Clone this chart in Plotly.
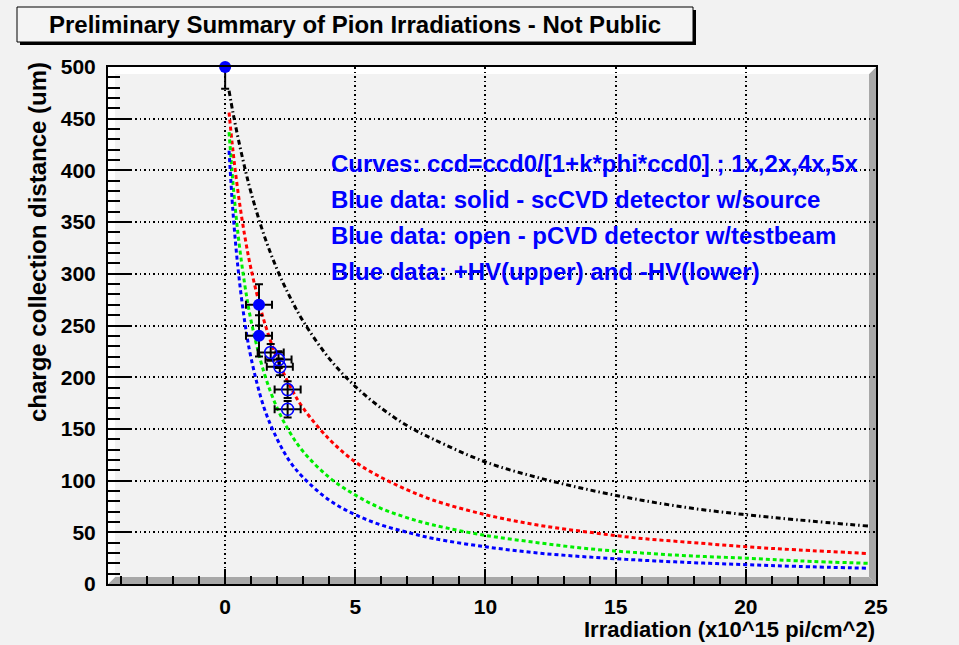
import plotly.graph_objects as go

# ---------------- data ----------------
curve_x = [0.15, 0.3, 0.5, 0.75, 1, 1.5, 2, 2.5, 3, 4, 5, 6, 7, 8, 10, 12, 14, 16, 18, 20, 22, 24.7]
curve_1x = [477, 456, 431, 403, 378, 337, 304, 277, 254, 218, 191, 170, 153, 140, 118, 103, 91, 81, 73, 67, 62, 56]
curve_2x = [456, 419, 378, 337, 304, 254, 218, 191, 170, 140, 118, 103, 91, 81, 67, 57, 50, 44, 40, 36, 33, 29.5]
curve_4x = [437, 388, 337, 290, 254, 204, 170, 146, 128, 103, 86, 73, 64, 57, 47, 40, 34, 30, 27, 25, 22.4, 20]
curve_5x = [419, 360, 304, 254, 218, 170, 140, 118, 103, 81, 67, 57, 50, 44, 36, 30, 26, 23, 20.6, 18.7, 17, 15.2]

solid_x = [1.3, 1.3]
solid_y = [270, 240]
solid_ex = [0.5, 0.5]
solid_ey = [20, 20]

top_x = [0]
top_y = [500]
top_ey_minus = [21]

open_x = [1.75, 2.05, 2.1, 2.4, 2.4]
open_y = [224, 217, 210, 188, 169]
open_ex = [0.5, 0.5, 0.5, 0.5, 0.5]
open_ey = [8, 8, 8, 8, 8]

title_text = "Preliminary Summary of Pion Irradiations - Not Public"
x_title = "Irradiation (x10^15 pi/cm^2)"
y_title = "charge collection distance (um)"
notes = [
    "Curves: ccd=ccd0/[1+k*phi*ccd0] ; 1x,2x,4x,5x",
    "Blue data: solid - scCVD detector w/source",
    "Blue data: open - pCVD detector w/testbeam",
    "Blue data: +HV(upper) and -HV(lower)",
]

# ---------------- layout geometry ----------------
W, H = 959, 645
L, R, T, B = 108, 876, 67, 584  # plot area pixels
PW, PH = R - L, B - T
FONT = "Liberation Sans, Arial, Helvetica, sans-serif"
BG = "#f2f2f2"


def px(x):
    return (x - L) / PW


def py(y):
    return (B - y) / PH


fig = go.Figure()

curve_styles = [
    (curve_1x, "black", "5px,3px,1.5px,3px"),
    (curve_2x, "#ff0000", "4px,3px"),
    (curve_4x, "#00ee00", "4px,3px"),
    (curve_5x, "#0000ff", "4px,3px"),
]
for ys, col, dash in curve_styles:
    fig.add_trace(go.Scatter(x=curve_x, y=ys, mode="lines",
                             line=dict(color=col, width=3, dash=dash, shape="spline"),
                             hoverinfo="skip"))

err_style = dict(color="black", thickness=2, width=4)

fig.add_trace(go.Scatter(
    x=top_x, y=top_y, mode="markers", cliponaxis=False,
    marker=dict(symbol="circle", size=12, color="#0000ff"),
    error_y=dict(type="data", symmetric=False, array=[0], arrayminus=top_ey_minus, **err_style),
))
fig.add_trace(go.Scatter(
    x=solid_x, y=solid_y, mode="markers",
    marker=dict(symbol="circle", size=12, color="#0000ff"),
    error_x=dict(type="data", array=solid_ex, **err_style),
    error_y=dict(type="data", array=solid_ey, **err_style),
))
fig.add_trace(go.Scatter(
    x=open_x, y=open_y, mode="markers",
    marker=dict(symbol="circle-open", size=12, color="#0000ff", line=dict(width=1.5, color="#0000ff")),
    error_x=dict(type="data", array=open_ex, **err_style),
    error_y=dict(type="data", array=open_ey, **err_style),
))

tickfont = dict(family=FONT, size=21, color="black", weight="bold")
common = dict(showline=True, linecolor="black", linewidth=2, mirror=True,
              ticks="inside", tickcolor="black", tickwidth=1.5,
              showgrid=True, gridcolor="black", gridwidth=1.5, griddash="1.5px,3px",
              zeroline=False, tickfont=tickfont)

fig.update_xaxes(range=[-4.5, 25], tick0=0, dtick=5, ticklen=15, ticklabelstandoff=3,
                 minor=dict(tick0=0, dtick=1, ticks="inside", ticklen=8, tickcolor="black",
                            tickwidth=1.5, showgrid=False),
                 **common)
fig.update_yaxes(range=[0, 500], tick0=0, dtick=50, ticklen=23, ticklabelstandoff=6,
                 minor=dict(tick0=0, dtick=10, ticks="inside", ticklen=12, tickcolor="black",
                            tickwidth=1.5, showgrid=False),
                 **common)

shapes = []
bev = 7
dx, dy = bev / PW, bev / PH
# gray bevel bottom and right
shapes.append(dict(type="path", xref="paper", yref="paper", layer="between",
                   path=f"M 0 0 L 1 0 L {1-dx} {dy} L {dx} {dy} Z",
                   fillcolor="#a8a8a8", line=dict(width=0)))
shapes.append(dict(type="path", xref="paper", yref="paper", layer="between",
                   path=f"M 1 0 L 1 1 L {1-dx} {1-dy} L {1-dx} {dy} Z",
                   fillcolor="#a8a8a8", line=dict(width=0)))
# white bevel top and left
shapes.append(dict(type="path", xref="paper", yref="paper", layer="between",
                   path=f"M 0 1 L 1 1 L {1-dx} {1-dy} L {dx} {1-dy} Z",
                   fillcolor="#ffffff", line=dict(width=0)))
shapes.append(dict(type="path", xref="paper", yref="paper", layer="between",
                   path=f"M 0 0 L 0 1 L {dx} {1-dy} L {dx} {dy} Z",
                   fillcolor="#ffffff", line=dict(width=0)))
# title box shadow + box
shapes.append(dict(type="rect", xref="paper", yref="paper",
                   x0=px(20), x1=px(696), y0=py(10), y1=py(45),
                   fillcolor="#000000", line=dict(width=0)))
shapes.append(dict(type="rect", xref="paper", yref="paper",
                   x0=px(17), x1=px(693), y0=py(7), y1=py(42),
                   fillcolor="#f4f4f4", line=dict(width=1, color="black")))

annotations = [
    dict(text=title_text, xref="paper", yref="paper", x=px(355), y=py(24.5),
         xanchor="center", yanchor="middle", showarrow=False,
         font=dict(family=FONT, size=24, color="black", weight="bold")),
    dict(text=x_title, xref="paper", yref="paper", x=px(877), y=py(644),
         xanchor="right", yanchor="bottom", showarrow=False,
         font=dict(family=FONT, size=22, color="black", weight="bold")),
    dict(text=y_title, xref="paper", yref="paper", x=px(37), y=py(60),
         xanchor="center", yanchor="top", textangle=-90, showarrow=False,
         font=dict(family=FONT, size=24, color="black", weight="bold")),
]
for i, t in enumerate(notes):
    annotations.append(dict(text=t, xref="paper", yref="paper", x=px(329), y=py(163 + 36 * i),
                            xanchor="left", yanchor="middle", showarrow=False,
                            font=dict(family=FONT, size=24, color="#0000ff", weight="bold")))

fig.update_layout(width=W, height=H, autosize=False,
                  margin=dict(l=L, r=W - R, t=T, b=H - B, pad=0),
                  paper_bgcolor=BG, plot_bgcolor=BG, showlegend=False,
                  shapes=shapes, annotations=annotations)

fig.write_html("out.html")
